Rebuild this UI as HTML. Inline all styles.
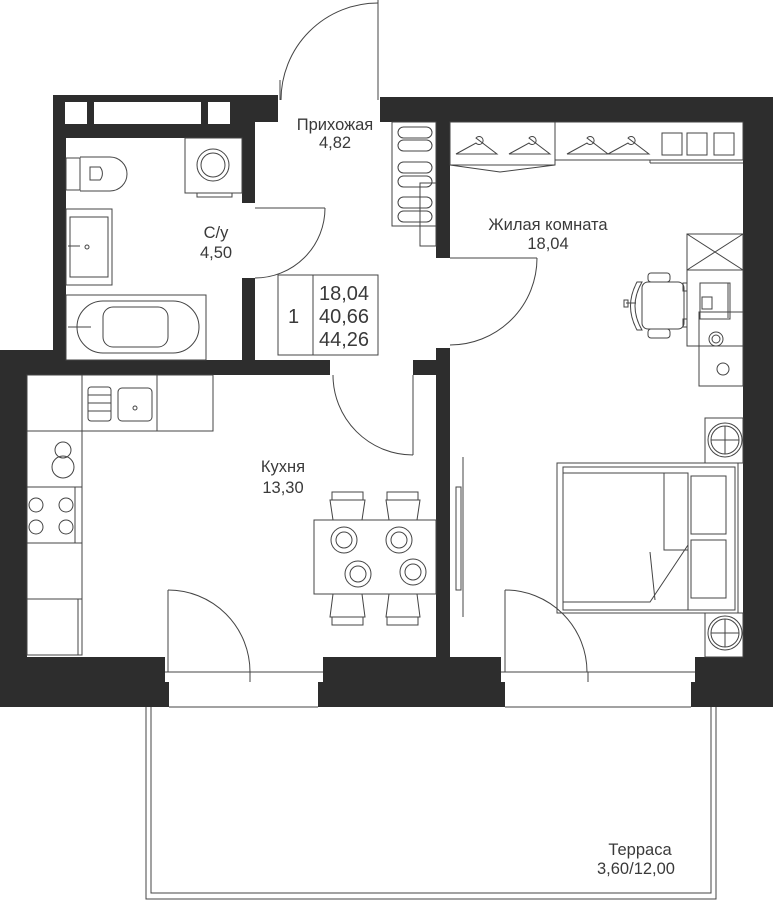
<!DOCTYPE html>
<html><head><meta charset="utf-8"><style>
html,body{margin:0;padding:0;background:#fff}
svg{display:block}
text{font-family:"Liberation Sans",sans-serif;fill:#3a3a3a}
</style></head><body>
<svg width="773" height="900" viewBox="0 0 773 900" xmlns="http://www.w3.org/2000/svg">
<g fill="#2d2d2d">
<rect x="53" y="95" width="225" height="27"/>
<rect x="53" y="122" width="202" height="16"/>
<rect x="53" y="95" width="13" height="265"/>
<rect x="242" y="122" width="13" height="81"/>
<rect x="242" y="278" width="13" height="82"/>
<rect x="0" y="350" width="66" height="25"/>
<rect x="0" y="350" width="27" height="357"/>
<rect x="27" y="360" width="303" height="15"/>
<rect x="413" y="360" width="37" height="15"/>
<rect x="436" y="348" width="14" height="309"/>
<rect x="380" y="97" width="393" height="25"/>
<rect x="743" y="97" width="30" height="610"/>
<rect x="436" y="122" width="14" height="136"/>
<rect x="0" y="657" width="165" height="25"/>
<rect x="0" y="682" width="169" height="25"/>
<rect x="323" y="657" width="178" height="25"/>
<rect x="318" y="682" width="187" height="25"/>
<rect x="695" y="657" width="78" height="25"/>
<rect x="691" y="682" width="82" height="25"/>
</g>
<g fill="#fff">
<rect x="65" y="102" width="22" height="22"/>
<rect x="94" y="102" width="107" height="22"/>
<rect x="208" y="102" width="22" height="22"/>
</g>
<g fill="none" stroke="#444" stroke-width="1">
<line x1="165" y1="672" x2="323" y2="672"/><line x1="250" y1="672" x2="250" y2="682"/>
<line x1="501" y1="672" x2="695" y2="672"/><line x1="588" y1="672" x2="588" y2="682"/>
<line x1="169" y1="707" x2="318" y2="707"/><line x1="505" y1="707" x2="691" y2="707"/>
<path d="M146 707 V899 H716 V707"/>
<path d="M151 707 V893 H711 V707"/>
<line x1="378" y1="0" x2="378" y2="100"/>
<path d="M281 100 A97 97 0 0 1 378 3"/>
<line x1="280" y1="80" x2="280" y2="100"/>
<line x1="255" y1="208" x2="325" y2="208"/>
<path d="M325 208 A70 70 0 0 1 255 278"/>
<line x1="450" y1="258" x2="537" y2="258"/>
<path d="M537 258 A87 87 0 0 1 450 345"/>
<line x1="413" y1="375" x2="413" y2="455"/>
<path d="M333 375 A80 80 0 0 0 413 455"/>
<line x1="168" y1="590" x2="168" y2="672"/>
<path d="M168 590 A82 82 0 0 1 250 672"/>
<line x1="505" y1="590" x2="505" y2="672"/>
<path d="M505 590 A82 82 0 0 1 587 672"/>
<rect x="278" y="275" width="100" height="80"/>
<line x1="313" y1="275" x2="313" y2="355"/>
<rect x="185" y="138" width="57" height="55"/>
<circle cx="213" cy="165" r="16"/><circle cx="213" cy="165" r="12"/>
<rect x="197" y="193" width="35" height="4"/>
<rect x="66" y="158" width="14" height="32"/>
<path d="M80 157 H110 A17 17 0 0 1 110 191 H80"/>
<path d="M90 167 H100 A10 10 0 0 1 100 180 H90 Z"/>
<rect x="66" y="209" width="46" height="76"/>
<rect x="70" y="217" width="38" height="60"/>
<circle cx="87" cy="247" r="2"/><line x1="68" y1="246" x2="80" y2="246"/>
<rect x="66" y="295" width="140" height="65"/>
<rect x="77" y="301" width="122" height="52" rx="26"/>
<rect x="103" y="307" width="65" height="40" rx="10"/>
<line x1="68" y1="327" x2="91" y2="327"/>
<rect x="392" y="122" width="44" height="104"/>
<rect x="420" y="183" width="16" height="63"/>
<rect x="398" y="127" width="34" height="11" rx="5.5"/><rect x="398" y="140" width="34" height="11" rx="5.5"/>
<rect x="398" y="162" width="34" height="11" rx="5.5"/><rect x="398" y="176" width="34" height="11" rx="5.5"/>
<rect x="398" y="197" width="34" height="11" rx="5.5"/><rect x="398" y="211" width="34" height="11" rx="5.5"/>
<rect x="450" y="122" width="105" height="43"/>
<path d="M450 165 L500 172 L555 165"/>
<rect x="555" y="122" width="188" height="38"/>
<line x1="650" y1="160" x2="650" y2="163"/><line x1="650" y1="163" x2="743" y2="163"/>
<path d="M476 138 a4 4 0 1 1 0 5 L456 154 H497 Z"/>
<path d="M529 138 a4 4 0 1 1 0 5 L509 154 H550 Z"/>
<path d="M587 138 a4 4 0 1 1 0 5 L567 154 H608 Z"/>
<path d="M628 138 a4 4 0 1 1 0 5 L608 154 H649 Z"/>
<rect x="662" y="133" width="20" height="22"/><rect x="687" y="133" width="20" height="22"/><rect x="714" y="133" width="20" height="22"/>
<rect x="687" y="234" width="56" height="36"/>
<line x1="687" y1="234" x2="743" y2="270"/><line x1="743" y1="234" x2="687" y2="270"/>
<rect x="687" y="270" width="56" height="76"/>
<rect x="699" y="312" width="44" height="74"/>
<rect x="700" y="283" width="30" height="36"/>
<rect x="702" y="297" width="10" height="12"/>
<line x1="728" y1="283" x2="728" y2="318"/>
<circle cx="716" cy="339" r="7"/><circle cx="716" cy="339" r="4"/>
<circle cx="723" cy="369" r="6"/>
<rect x="642" y="282" width="42" height="47" rx="6"/>
<path d="M642 282 Q628 306 642 330 L637 330 Q624 306 637 282 Z"/>
<line x1="626" y1="303" x2="636" y2="303"/><rect x="624" y="300" width="4" height="7"/>
<rect x="648" y="273" width="22" height="9" rx="3"/><rect x="648" y="329" width="22" height="9" rx="3"/>
<rect x="683" y="283" width="4" height="8"/><rect x="683" y="319" width="4" height="8"/>
<rect x="705" y="418" width="38" height="45"/>
<circle cx="725" cy="440" r="17"/><circle cx="725" cy="440" r="14"/>
<line x1="711" y1="440" x2="739" y2="440"/><line x1="725" y1="426" x2="725" y2="454"/>
<rect x="705" y="613" width="38" height="44"/>
<circle cx="725" cy="633" r="17"/><circle cx="725" cy="633" r="14"/>
<line x1="711" y1="633" x2="739" y2="633"/><line x1="725" y1="619" x2="725" y2="647"/>
<rect x="557" y="463" width="181" height="150"/>
<rect x="563" y="467" width="172" height="143"/>
<path d="M563 473 H688 V610"/>
<path d="M664 473 V550 H688"/>
<path d="M563 602 H650 L688 545"/>
<path d="M650 552 L655 600"/>
<rect x="691" y="476" width="35" height="58"/>
<rect x="691" y="540" width="35" height="58"/>
<line x1="463" y1="457" x2="463" y2="617"/>
<rect x="456" y="487" width="5" height="103"/>
<rect x="27" y="375" width="186" height="56"/>
<line x1="82" y1="375" x2="82" y2="431"/><line x1="157" y1="375" x2="157" y2="431"/>
<rect x="88" y="387" width="23" height="34" rx="3"/>
<line x1="88" y1="395" x2="111" y2="395"/><line x1="88" y1="403" x2="111" y2="403"/><line x1="88" y1="411" x2="111" y2="411"/>
<rect x="118" y="388" width="34" height="33" rx="4"/>
<circle cx="135" cy="408" r="2"/>
<rect x="27" y="431" width="55" height="224"/>
<line x1="27" y1="487" x2="82" y2="487"/><line x1="27" y1="543" x2="82" y2="543"/><line x1="27" y1="599" x2="82" y2="599"/>
<line x1="75" y1="487" x2="75" y2="543"/><line x1="78" y1="599" x2="78" y2="655"/>
<circle cx="63" cy="450" r="8"/><circle cx="63" cy="467" r="11"/>
<circle cx="36" cy="505" r="7"/><circle cx="66" cy="505" r="7"/>
<circle cx="36" cy="527" r="7"/><circle cx="66" cy="527" r="7"/>
<rect x="314" y="520" width="122" height="74"/>
<path d="M330 500 H365 L362 520 H333 Z"/><rect x="332" y="492" width="31" height="8"/>
<path d="M386 500 H420 L417 520 H389 Z"/><rect x="387" y="492" width="31" height="8"/>
<path d="M330 617 H365 L362 594 H333 Z"/><rect x="332" y="617" width="31" height="8"/>
<path d="M386 617 H420 L417 594 H389 Z"/><rect x="387" y="617" width="31" height="8"/>
<circle cx="344" cy="540" r="13"/><circle cx="344" cy="540" r="8"/>
<circle cx="399" cy="540" r="13"/><circle cx="399" cy="540" r="8"/>
<circle cx="358" cy="574" r="13"/><circle cx="358" cy="574" r="8"/>
<circle cx="413" cy="572" r="13"/><circle cx="413" cy="572" r="8"/>
</g>
<g font-size="16.5" text-anchor="middle">
<text x="335" y="130">Прихожая</text><text x="335" y="148">4,82</text>
<text x="216" y="238">С/у</text><text x="216" y="258">4,50</text>
<text x="548" y="230">Жилая комната</text><text x="548" y="249">18,04</text>
<text x="283" y="472">Кухня</text><text x="283" y="493">13,30</text>
<text x="640" y="855">Терраса</text><text x="636" y="874">3,60/12,00</text>
</g>
<g font-size="20">
<text x="288" y="323">1</text>
<text x="319" y="300">18,04</text>
<text x="319" y="323">40,66</text>
<text x="319" y="346">44,26</text>
</g>
</svg>
</body></html>
